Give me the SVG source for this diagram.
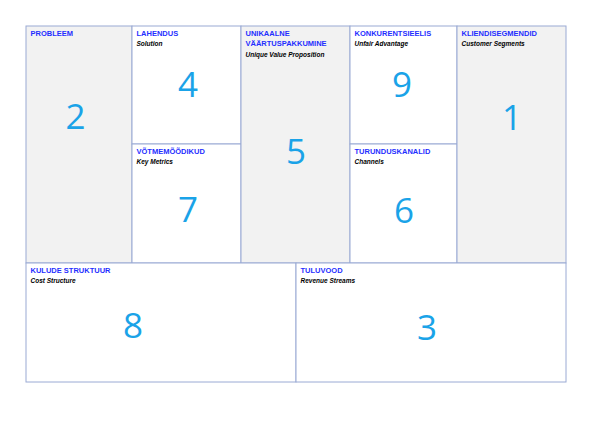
<svg xmlns="http://www.w3.org/2000/svg" width="600" height="423" viewBox="0 0 600 423">
<style>
.box{stroke:#9aaad4;stroke-width:1}
.g{fill:#f2f2f2}
.w{fill:#ffffff}
.t{font-family:"Liberation Sans",Arial,sans-serif;font-weight:bold;font-size:7.5px;fill:#1f2fff}
.s{font-family:"Liberation Sans",Arial,sans-serif;font-weight:bold;font-style:italic;font-size:6.5px;fill:#000000}
.n{font-family:"Open Sans","Liberation Sans",sans-serif;font-size:35px;fill:#1aa3e8;text-anchor:middle}
</style>
<rect x="0" y="0" width="600" height="423" fill="#ffffff"/>
<g id="probleem">
<rect class="box g" x="26" y="26" width="106" height="237"/>
<text class="t" x="30.5" y="35.5">PROBLEEM</text>
<text class="n" x="75.5" y="129">2</text>
</g>
<g id="lahendus">
<rect class="box w" x="132" y="26" width="109" height="118"/>
<text class="t" x="136.5" y="35.5">LAHENDUS</text>
<text class="s" x="136.5" y="45.5">Solution</text>
<text class="n" x="188" y="97">4</text>
</g>
<g id="votmemoodikud">
<rect class="box w" x="132" y="144" width="109" height="119"/>
<text class="t" x="136.5" y="153.5">VÕTMEMÕÕDIKUD</text>
<text class="s" x="136.5" y="163.5">Key Metrics</text>
<text class="n" x="188" y="222">7</text>
</g>
<g id="uvp">
<rect class="box g" x="241" y="26" width="109" height="237"/>
<text class="t" x="245.5" y="35.5">UNIKAALNE</text>
<text class="t" x="245.5" y="46">VÄÄRTUSPAKKUMINE</text>
<text class="s" x="245.5" y="56.5">Unique Value Proposition</text>
<text class="n" x="296" y="164">5</text>
</g>
<g id="konkurentsieelis">
<rect class="box w" x="350" y="26" width="107" height="118"/>
<text class="t" x="354.5" y="35.5">KONKURENTSIEELIS</text>
<text class="s" x="354.5" y="45.5">Unfair Advantage</text>
<text class="n" x="402" y="97">9</text>
</g>
<g id="turunduskanalid">
<rect class="box w" x="350" y="144" width="107" height="119"/>
<text class="t" x="354.5" y="153.5">TURUNDUSKANALID</text>
<text class="s" x="354.5" y="163.5">Channels</text>
<text class="n" x="404" y="223">6</text>
</g>
<g id="kliendisegmendid">
<rect class="box g" x="457" y="26" width="109" height="237"/>
<text class="t" x="461.5" y="35.5">KLIENDISEGMENDID</text>
<text class="s" x="461.5" y="45.5">Customer Segments</text>
<text class="n" x="512" y="130">1</text>
</g>
<g id="kulude">
<rect class="box w" x="26" y="263" width="270" height="119"/>
<text class="t" x="30.5" y="272.5">KULUDE STRUKTUUR</text>
<text class="s" x="30.5" y="282.5">Cost Structure</text>
<text class="n" x="133" y="338">8</text>
</g>
<g id="tuluvood">
<rect class="box w" x="296" y="263" width="270" height="119"/>
<text class="t" x="300.5" y="272.5">TULUVOOD</text>
<text class="s" x="300.5" y="282.5">Revenue Streams</text>
<text class="n" x="427" y="340">3</text>
</g>
<g id="connectors"></g>
</svg>
